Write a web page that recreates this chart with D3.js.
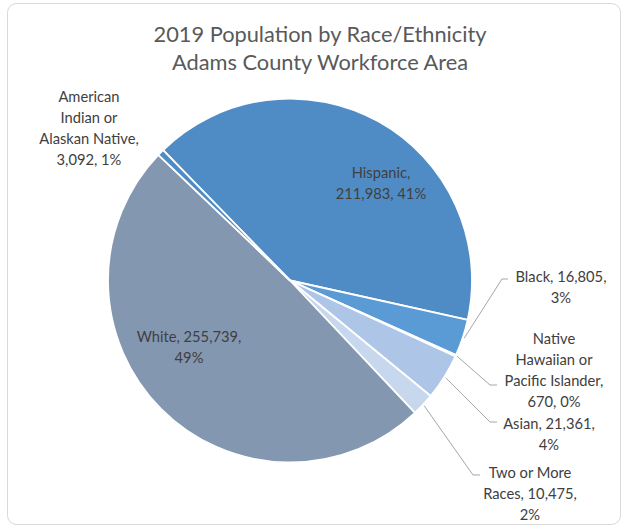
<!DOCTYPE html>
<html>
<head>
<meta charset="utf-8">
<script src="https://cdn.jsdelivr.net/npm/d3@7"></script>
<style>
  html, body { margin: 0; padding: 0; background: #ffffff; }
  svg { display: block; font-family: Lato, "Open Sans", sans-serif; }
</style>
</head>
<body>
<svg id="chart" width="622" height="529"></svg>
<script>
// Population by race/ethnicity, clockwise from the Hispanic slice
const categories = [
  "Hispanic",
  "Black",
  "Native Hawaiian or Pacific Islander",
  "Asian",
  "Two or More Races",
  "White",
  "American Indian or Alaskan Native"
];
const population = [211983, 16805, 670, 21361, 10475, 255739, 3092];

// Label text, "|" breaks a line, {v} = count, {p} = share
const labelTemplates = [
  "Hispanic,|{v}, {p}",
  "Black, {v},|{p}",
  "Native|Hawaiian or|Pacific Islander,|{v}, {p}",
  "Asian, {v},|{p}",
  "Two or More|Races, {v},|{p}",
  "White, {v},|{p}",
  "American|Indian or|Alaskan Native,|{v}, {p}"
];

const titleLines = ["2019 Population by Race/Ethnicity", "Adams County Workforce Area"];

const sliceColors = ["#4f8cc6", "#5b9bd5", "#9dc3e6", "#adc5e7", "#c6d7ee", "#8497b0", "#4f8cc6"];

// Label placement: centre x, centre y of first line; optional leader elbow
const labelLayout = [
  { x: 381, y: 172 },
  { x: 561, y: 276, leader: { ex: 502, ey: 279, hx: 508 } },
  { x: 554, y: 338, leader: { ex: 490, ey: 385, hx: 497 } },
  { x: 549, y: 423, leader: { ex: 490, ey: 422, hx: 497 } },
  { x: 530, y: 472, leader: { ex: 473, ey: 475, hx: 480 } },
  { x: 189, y: 336 },
  { x: 89,  y: 96 }
];

const W = 622, H = 529;
const cx = 290, cy = 280.5, R = 182;
const lineH = 21;
const startDeg = -44.2;

const svg = d3.select("#chart");

// chart frame
svg.append("rect")
  .attr("x", 7.5).attr("y", 3.5)
  .attr("width", 613).attr("height", 521)
  .attr("rx", 9).attr("ry", 9)
  .attr("fill", "#ffffff")
  .attr("stroke", "#d9d9d9")
  .attr("stroke-width", 1);

// title
svg.append("g").selectAll("text")
  .data(titleLines)
  .join("text")
  .attr("x", 320)
  .attr("y", (d, i) => 33 + i * 28)
  .attr("text-anchor", "middle")
  .attr("dominant-baseline", "central")
  .attr("fill", "#595959")
  .style("font-size", "21.8px")
  .text(d => d);

const total = d3.sum(population);
const fmtV = d3.format(",");
const fmtP = d3.format(".0%");

const pie = d3.pie()
  .value(d => d)
  .sort(null)
  .startAngle(startDeg * Math.PI / 180)
  .endAngle((startDeg + 360) * Math.PI / 180);

const arcs = pie(population);
const arc = d3.arc().innerRadius(0).outerRadius(R);

const g = svg.append("g").attr("transform", `translate(${cx},${cy})`);
g.selectAll("path")
  .data(arcs)
  .join("path")
  .attr("d", arc)
  .attr("fill", (d, i) => sliceColors[i])
  .attr("stroke", "#ffffff")
  .attr("stroke-width", 1.8)
  .attr("stroke-linejoin", "round");

// leader lines from slice edge to label
const leaders = svg.append("g");
arcs.forEach((a, i) => {
  const L = labelLayout[i].leader;
  if (!L) return;
  const mid = (a.startAngle + a.endAngle) / 2;
  const px = cx + (R + 1.5) * Math.sin(mid);
  const py = cy - (R + 1.5) * Math.cos(mid);
  leaders.append("polyline")
    .attr("points", `${px},${py} ${L.ex},${L.ey} ${L.hx},${L.ey}`)
    .attr("fill", "none")
    .attr("stroke", "#a6a6a6")
    .attr("stroke-width", 1);
});

// data labels
const labels = svg.append("g");
arcs.forEach((a, i) => {
  const v = population[i];
  const txt = labelTemplates[i]
    .replace("{v}", fmtV(v))
    .replace("{p}", fmtP(v / total));
  const lines = txt.split("|");
  const pos = labelLayout[i];
  const t = labels.append("text")
    .attr("text-anchor", "middle")
    .attr("fill", "#404040")
    .style("font-size", "14.7px");
  lines.forEach((ln, k) => {
    t.append("tspan")
      .attr("x", pos.x)
      .attr("y", pos.y + k * lineH)
      .attr("dominant-baseline", "central")
      .text(ln);
  });
});
</script>
</body>
</html>
